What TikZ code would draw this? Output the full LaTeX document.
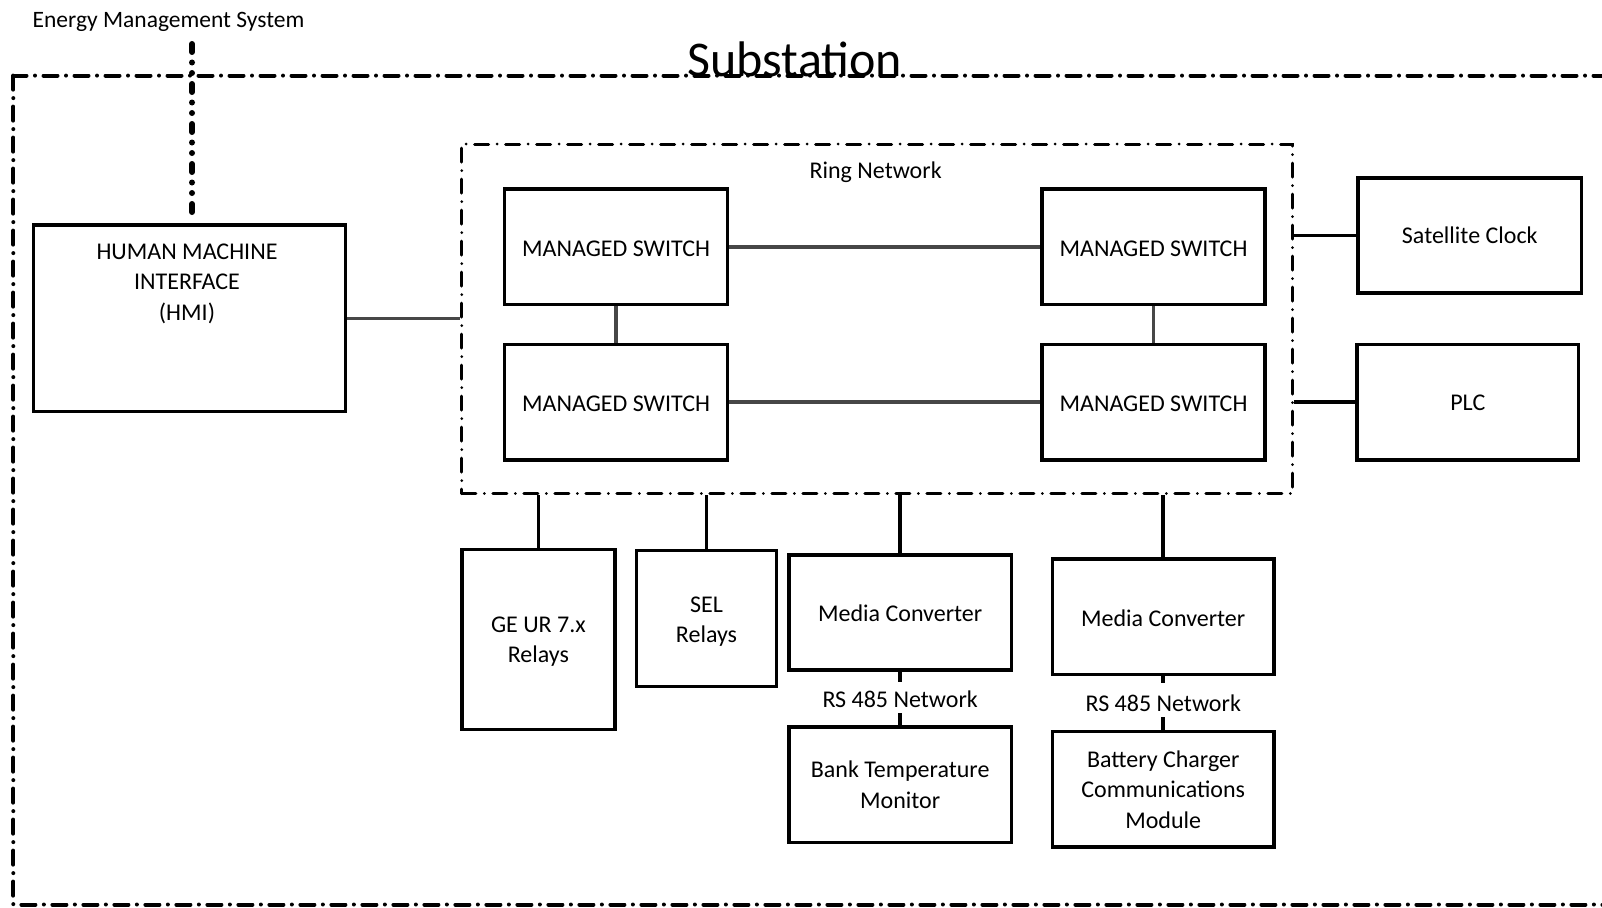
\documentclass[tikz,border=0pt]{standalone}
\usepackage{fontspec}
\setmainfont{Carlito}
\usetikzlibrary{calc}
\begin{document}
\begin{tikzpicture}[x=1pt,y=-1pt,
  every node/.style={font=\fontsize{24}{30.5}\selectfont, inner sep=0pt},
  box/.style={draw, line width=3.5pt, rectangle, align=center},
  frame/.style={line width=4pt, line cap=round, dash pattern=on 14pt off 8.5pt on 0pt off 8.5pt},
  ringframe/.style={draw, line width=3pt, line cap=round, dash pattern=on 14pt off 8.5pt on 0pt off 8.5pt},
  glink/.style={line width=3.5pt, draw=black!72},
  blink/.style={line width=3.5pt},
  emsline/.style={line width=6pt, line cap=round, dash pattern=on 8pt off 10.5pt on 0pt off 10.5pt on 0pt off 11pt}
]
\useasboundingbox (0,0) rectangle (1602,907);

% outer substation frame
\draw[frame] (13.3,75.6) rectangle (1640,904.5);
\node[anchor=base, font=\fontsize{50}{60}\selectfont] (substation) at (794.9,76) {Substation};

% Energy management system
\node[font=\fontsize{23.5}{28}\selectfont] (ems) at (168.5,22) {Energy Management System};
\coordinate (emsTop) at (192,44);
\coordinate (emsBot) at (192,215);
\draw[emsline] (emsTop) -- (emsBot);

% HMI
\node[box, minimum width=311.6pt, minimum height=186.9pt] (hmi) at (189.5,318.25) {};
\node[align=center] (hmitext) at (187,283.5) {HUMAN MACHINE\\INTERFACE\\(HMI)};

% ring network
\node[ringframe, minimum width=830.7pt, minimum height=349.5pt] (ring) at (877.15,318.75) {};
\node (ringlabel) at (875.6,172.6) {Ring Network};

% managed switches
\tikzset{sw/.style={box, minimum width=222.8pt, minimum height=115.5pt, text height=19.5pt}}
\node[sw] (sw1) at (616.1,246.75) {MANAGED SWITCH};
\node[sw] (sw2) at (1153.5,246.75) {MANAGED SWITCH};
\node[sw] (sw3) at (616.1,402) {MANAGED SWITCH};
\node[sw] (sw4) at (1153.5,402) {MANAGED SWITCH};

% right side devices
\node[box, minimum width=223.6pt, minimum height=115.4pt] (clock) at (1469.8,235.5) {Satellite Clock};
\node[box, minimum width=221.5pt, minimum height=115.5pt, text height=17.5pt] (plc) at (1467.75,402) {PLC};

% bottom devices
\node[box, minimum width=153.2pt, minimum height=179.8pt, text height=50pt] (ge) at (538.4,639.6) {GE UR 7.x\\Relays};
\node[box, minimum width=140pt, minimum height=135.9pt, text height=52pt] (sel) at (706.5,618.65) {SEL\\Relays};
\node[box, minimum width=222.7pt, minimum height=115.4pt, text height=18.5pt] (mc1) at (900.15,612.5) {Media Converter};
\node[box, minimum width=222.7pt, minimum height=115.5pt] (btm) at (900.15,784.5) {Bank Temperature\\Monitor};
\node[box, minimum width=221.6pt, minimum height=115.4pt, text height=20.5pt] (mc2) at (1163.2,616.6) {Media Converter};
\node[box, minimum width=221.6pt, minimum height=115.5pt] (bccm) at (1163.2,789.25) {Battery Charger\\Communications\\Module};

\node[minimum height=31pt, text height=20.5pt] (rs1) at (900.15,697.5) {RS 485 Network};
\node[minimum height=34pt, text height=22.5pt] (rs2) at (1163.2,700) {RS 485 Network};

% connectors
\draw[glink] (hmi.east) -- (hmi.east -| ring.west);
\draw[glink] (sw1.east) -- (sw2.west);
\draw[glink] (sw3.east) -- (sw4.west);
\draw[glink] (sw1.south) -- (sw3.north);
\draw[glink] (sw2.south) -- (sw4.north);

\draw[blink] (clock.west) -- (clock.west -| ring.east);
\draw[blink] (plc.west) -- (plc.west -| ring.east);

\draw[blink] (ge.north) -- (ge.north |- ring.south);
\draw[blink] (sel.north) -- (sel.north |- ring.south);
\draw[blink] (mc1.north) -- (mc1.north |- ring.south);
\draw[blink] (mc2.north) -- (mc2.north |- ring.south);

\draw[blink] (mc1.south) -- (rs1.north);
\draw[blink] (rs1.south) -- (btm.north);
\draw[blink] (mc2.south) -- (rs2.north);
\draw[blink] (rs2.south) -- (bccm.north);
\end{tikzpicture}
\end{document}
